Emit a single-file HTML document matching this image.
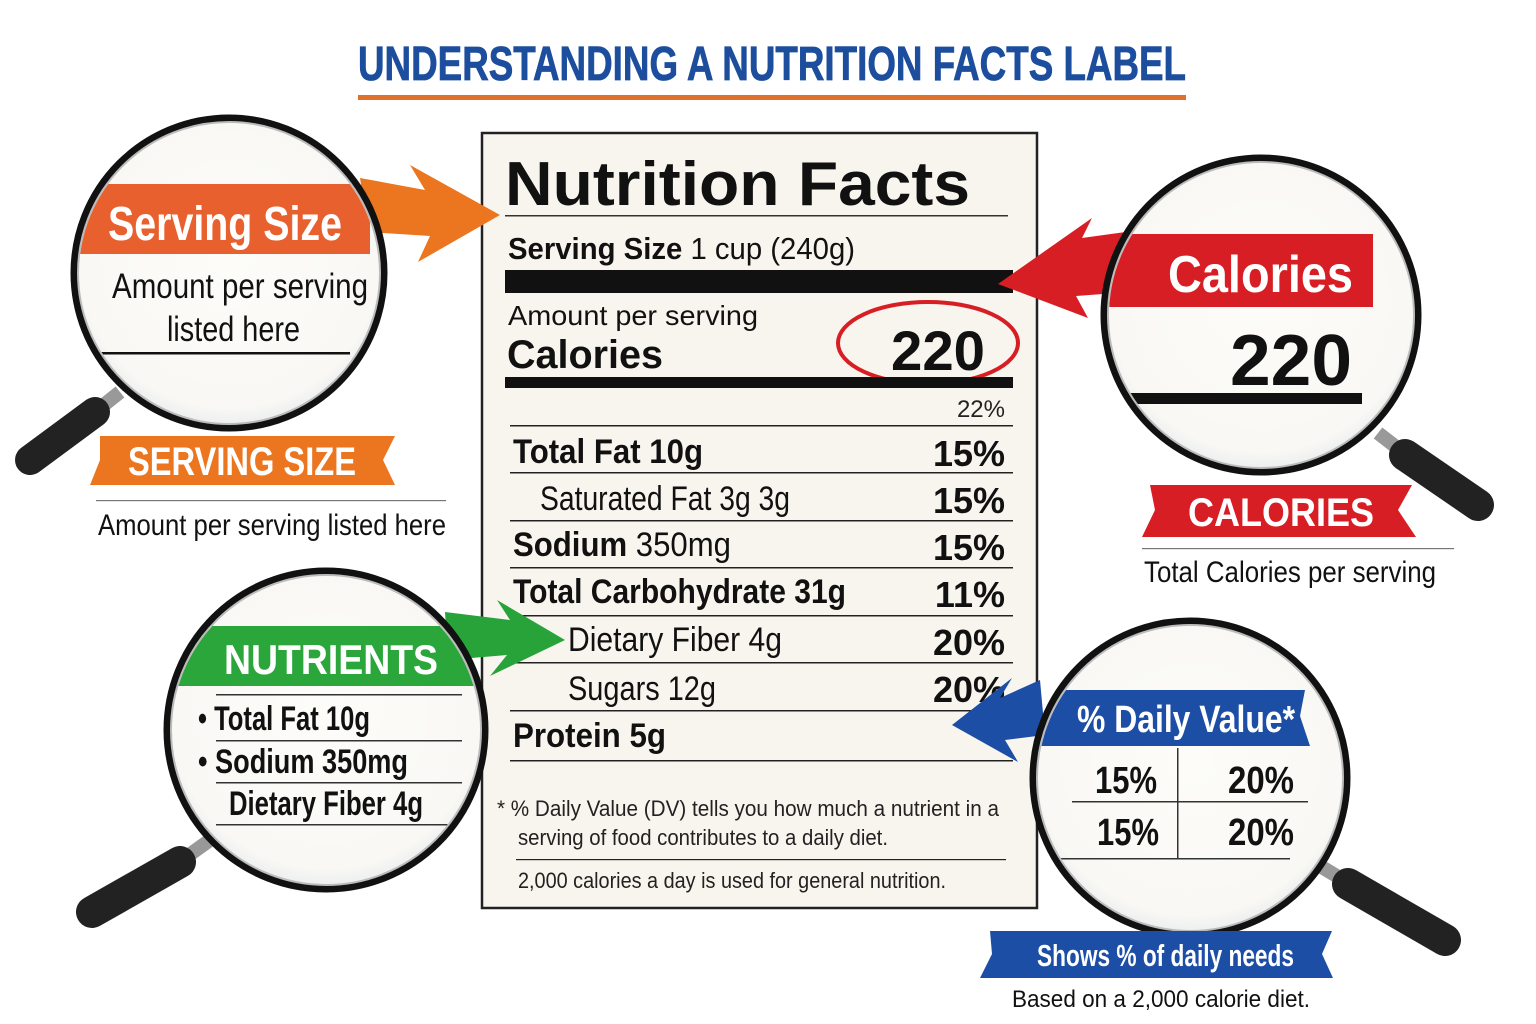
<!DOCTYPE html>
<html><head><meta charset="utf-8"><style>
html,body{margin:0;padding:0;background:#fff;}
svg{display:block}
text{font-family:"Liberation Sans",sans-serif;}
</style></head><body>
<svg width="1536" height="1024" viewBox="0 0 1536 1024" xmlns="http://www.w3.org/2000/svg">
<defs>
<radialGradient id="lens" cx="50%" cy="45%" r="55%"><stop offset="0" stop-color="#fdfcf9"/><stop offset="0.9" stop-color="#f9f8f4"/><stop offset="1" stop-color="#eceef0"/></radialGradient>
<clipPath id="c1"><circle cx="229" cy="273" r="150"/></clipPath>
<clipPath id="c2"><circle cx="1261" cy="315" r="152"/></clipPath>
<clipPath id="c3"><circle cx="326" cy="730" r="154"/></clipPath>
<clipPath id="c4"><circle cx="1190" cy="778" r="152"/></clipPath>
</defs>
<rect width="1536" height="1024" fill="#fff"/>

<!-- Title -->
<text x="772" y="80" text-anchor="middle" font-size="48" font-weight="bold" fill="#1d4e9e" stroke="#1d4e9e" stroke-width="0.8" textLength="828" lengthAdjust="spacingAndGlyphs">UNDERSTANDING A NUTRITION FACTS LABEL</text>
<rect x="358" y="95" width="828" height="5" fill="#e0712a"/>

<!-- Label -->
<rect x="482" y="133" width="555" height="775" fill="#f8f5ee" stroke="#222" stroke-width="2.5"/>
<text x="505" y="205" font-size="62" font-weight="bold" fill="#111" textLength="465" lengthAdjust="spacingAndGlyphs">Nutrition Facts</text>
<rect x="505" y="215" width="503" height="1.5" fill="#333"/>
<text x="508" y="259" font-size="31" fill="#111" textLength="347" lengthAdjust="spacingAndGlyphs"><tspan font-weight="bold">Serving Size</tspan> 1 cup (240g)</text>
<rect x="505" y="270" width="508" height="23" fill="#111"/>
<text x="508" y="325" font-size="28" fill="#111" textLength="250" lengthAdjust="spacingAndGlyphs">Amount per serving</text>
<text x="507" y="368" font-size="40" font-weight="bold" fill="#111" textLength="156" lengthAdjust="spacingAndGlyphs">Calories</text>
<text x="985" y="370" text-anchor="end" font-size="56" font-weight="bold" fill="#111" textLength="94" lengthAdjust="spacingAndGlyphs">220</text>
<ellipse cx="928" cy="343" rx="90" ry="41" fill="none" stroke="#d81e25" stroke-width="4"/>
<rect x="505" y="377" width="508" height="11" fill="#111"/>
<text x="1005" y="417" text-anchor="end" font-size="24" fill="#222">22%</text>
<g fill="#222">
<rect x="510" y="425" width="503" height="1.5"/>
<rect x="510" y="472" width="503" height="1.5"/>
<rect x="510" y="520" width="503" height="1.5"/>
<rect x="510" y="567" width="503" height="1.5"/>
<rect x="510" y="615" width="503" height="1.5"/>
<rect x="510" y="662" width="503" height="1.5"/>
<rect x="510" y="710" width="503" height="1.5"/>
<rect x="510" y="760" width="503" height="1.5"/>
<rect x="516" y="859" width="490" height="1.2"/>
</g>
<g font-size="34" fill="#111">
<text x="513" y="463" font-weight="bold" textLength="190" lengthAdjust="spacingAndGlyphs">Total Fat  10g</text>
<text x="540" y="510" textLength="250" lengthAdjust="spacingAndGlyphs">Saturated Fat 3g 3g</text>
<text x="513" y="556" textLength="218" lengthAdjust="spacingAndGlyphs"><tspan font-weight="bold">Sodium</tspan>  350mg</text>
<text x="513" y="603" font-weight="bold" textLength="333" lengthAdjust="spacingAndGlyphs">Total Carbohydrate  31g</text>
<text x="568" y="651" textLength="214" lengthAdjust="spacingAndGlyphs">Dietary Fiber  4g</text>
<text x="568" y="700" textLength="148" lengthAdjust="spacingAndGlyphs">Sugars 12g</text>
<text x="513" y="747" font-weight="bold" textLength="153" lengthAdjust="spacingAndGlyphs">Protein  5g</text>
</g>
<g font-size="36" font-weight="bold" fill="#111" text-anchor="end">
<text x="1005" y="466">15%</text>
<text x="1005" y="513">15%</text>
<text x="1005" y="560">15%</text>
<text x="1005" y="607">11%</text>
<text x="1005" y="655">20%</text>
<text x="1005" y="702">20%</text>
</g>
<g font-size="22" fill="#222">
<text x="497" y="816" textLength="502" lengthAdjust="spacingAndGlyphs">*  % Daily Value (DV) tells you how much a nutrient in a</text>
<text x="518" y="845" textLength="370" lengthAdjust="spacingAndGlyphs">serving of food contributes to a daily diet.</text>
<text x="518" y="888" textLength="428" lengthAdjust="spacingAndGlyphs">2,000 calories a day is used for general nutrition.</text>
</g>

<!-- Arrows -->
<path d="M360 178 L425 190 L410 165 L500 215 L418 262 L430 236 L368 232 Z" fill="#ec7620"/>
<path d="M1140 230 L1082 238 L1092 218 L998 284 L1088 318 L1076 296 L1130 292 Z" fill="#d81e25"/>
<path d="M445 612 L510 620 L497 600 L565 640 L490 676 L507 655 L448 660 Z" fill="#27a33a"/>
<path d="M1040 680 L1000 698 L1012 678 L952 725 L1018 762 L1005 740 L1045 735 Z" fill="#1d4ea6"/>

<!-- Handles -->
<g>
<line x1="120" y1="392" x2="95" y2="412" stroke="#999" stroke-width="14"/>
<line x1="95" y1="412" x2="30" y2="460" stroke="#222" stroke-width="30" stroke-linecap="round"/>
<line x1="1378" y1="433" x2="1400" y2="450" stroke="#999" stroke-width="14"/>
<line x1="1405" y1="455" x2="1478" y2="505" stroke="#222" stroke-width="32" stroke-linecap="round"/>
<line x1="210" y1="840" x2="185" y2="858" stroke="#999" stroke-width="14"/>
<line x1="180" y1="862" x2="92" y2="912" stroke="#222" stroke-width="32" stroke-linecap="round"/>
<line x1="1310" y1="860" x2="1340" y2="878" stroke="#999" stroke-width="14"/>
<line x1="1348" y1="884" x2="1445" y2="940" stroke="#222" stroke-width="32" stroke-linecap="round"/>
</g>

<!-- Lens 1 -->
<circle cx="229" cy="273" r="152" fill="url(#lens)"/>
<g clip-path="url(#c1)">
<rect x="60" y="184" width="310" height="70" fill="#e9602f"/>
<rect x="60" y="352" width="290" height="2.5" fill="#111"/>
<text x="108" y="240" font-size="48" font-weight="bold" fill="#fff" textLength="234" lengthAdjust="spacingAndGlyphs">Serving Size</text>
<text x="112" y="298" font-size="35" fill="#111" textLength="256" lengthAdjust="spacingAndGlyphs">Amount per serving</text>
<text x="167" y="341" font-size="35" fill="#111" textLength="133" lengthAdjust="spacingAndGlyphs">listed here</text>
</g>
<circle cx="229" cy="273" r="155" fill="none" stroke="#111" stroke-width="7"/>
<circle cx="229" cy="273" r="151" fill="none" stroke="#bbb" stroke-width="2"/>

<!-- Lens 2 -->
<circle cx="1261" cy="315" r="154" fill="url(#lens)"/>
<g clip-path="url(#c2)">
<rect x="1100" y="234" width="273" height="73" fill="#d81e25"/>
<rect x="1100" y="393" width="262" height="11" fill="#111"/>
<text x="1168" y="292" font-size="52" font-weight="bold" fill="#fff" textLength="185" lengthAdjust="spacingAndGlyphs">Calories</text>
<text x="1230" y="385" font-size="72" font-weight="bold" fill="#111" textLength="122" lengthAdjust="spacingAndGlyphs">220</text>
</g>
<circle cx="1261" cy="315" r="157" fill="none" stroke="#111" stroke-width="7"/>
<circle cx="1261" cy="315" r="153" fill="none" stroke="#bbb" stroke-width="2"/>

<!-- Lens 3 -->
<circle cx="326" cy="730" r="156" fill="url(#lens)"/>
<g clip-path="url(#c3)">
<rect x="160" y="626" width="330" height="60" fill="#2aa63a"/>
<text x="224" y="674" font-size="42" font-weight="bold" fill="#fff" textLength="214" lengthAdjust="spacingAndGlyphs">NUTRIENTS</text>
<g fill="#333"><rect x="216" y="694" width="246" height="1.5"/><rect x="216" y="740" width="246" height="1.5"/><rect x="216" y="782" width="246" height="1.5"/><rect x="216" y="824" width="246" height="1.5"/></g>
<g font-size="34" font-weight="bold" fill="#111">
<text x="198" y="730" textLength="172" lengthAdjust="spacingAndGlyphs">• Total Fat 10g</text>
<text x="198" y="773" textLength="210" lengthAdjust="spacingAndGlyphs">• Sodium 350mg</text>
<text x="229" y="815" textLength="194" lengthAdjust="spacingAndGlyphs">Dietary Fiber  4g</text>
</g>
</g>
<circle cx="326" cy="730" r="159" fill="none" stroke="#111" stroke-width="7"/>
<circle cx="326" cy="730" r="155" fill="none" stroke="#bbb" stroke-width="2"/>

<!-- Lens 4 -->
<circle cx="1190" cy="778" r="154" fill="url(#lens)"/>
<g clip-path="url(#c4)">
<path d="M1030 690 L1305 690 L1300 716 L1310 746 L1030 746 Z" fill="#1d4ea6"/>
<text x="1077" y="732" font-size="38" font-weight="bold" fill="#fff" textLength="218" lengthAdjust="spacingAndGlyphs">% Daily Value*</text>
<g fill="#333"><rect x="1072" y="801" width="236" height="1.5"/><rect x="1030" y="858" width="260" height="1.5"/><rect x="1177" y="748" width="1.5" height="110"/></g>
<g font-size="38" font-weight="bold" fill="#111">
<text x="1095" y="793" textLength="62" lengthAdjust="spacingAndGlyphs">15%</text>
<text x="1228" y="793" textLength="66" lengthAdjust="spacingAndGlyphs">20%</text>
<text x="1097" y="845" textLength="62" lengthAdjust="spacingAndGlyphs">15%</text>
<text x="1228" y="845" textLength="66" lengthAdjust="spacingAndGlyphs">20%</text>
</g>
</g>
<circle cx="1190" cy="778" r="157" fill="none" stroke="#111" stroke-width="7"/>
<circle cx="1190" cy="778" r="153" fill="none" stroke="#bbb" stroke-width="2"/>

<!-- Ribbons & captions -->
<path d="M100 436 L395 436 L383 460 L395 485 L90 485 L100 460 Z" fill="#ec7620"/>
<text x="128" y="475" font-size="40" font-weight="bold" fill="#fff" textLength="228" lengthAdjust="spacingAndGlyphs">SERVING SIZE</text>
<rect x="96" y="500" width="350" height="1.2" fill="#777"/>
<text x="98" y="535" font-size="30" fill="#111" textLength="348" lengthAdjust="spacingAndGlyphs">Amount per serving listed here</text>

<path d="M1150 485 L1412 485 L1398 510 L1416 537 L1142 537 L1155 510 Z" fill="#d81e25"/>
<text x="1188" y="526" font-size="40" font-weight="bold" fill="#fff" textLength="186" lengthAdjust="spacingAndGlyphs">CALORIES</text>
<rect x="1142" y="548" width="312" height="1.2" fill="#777"/>
<text x="1144" y="582" font-size="30" fill="#111" textLength="292" lengthAdjust="spacingAndGlyphs">Total Calories per serving</text>

<path d="M990 931 L1332 931 L1322 954 L1333 978 L980 978 L992 954 Z" fill="#1d4ea6"/>
<text x="1037" y="966" font-size="31" font-weight="bold" fill="#fff" textLength="257" lengthAdjust="spacingAndGlyphs">Shows % of daily needs</text>
<text x="1012" y="1007" font-size="24" fill="#111" textLength="298" lengthAdjust="spacingAndGlyphs">Based on a 2,000 calorie diet.</text>
</svg>
</body></html>
